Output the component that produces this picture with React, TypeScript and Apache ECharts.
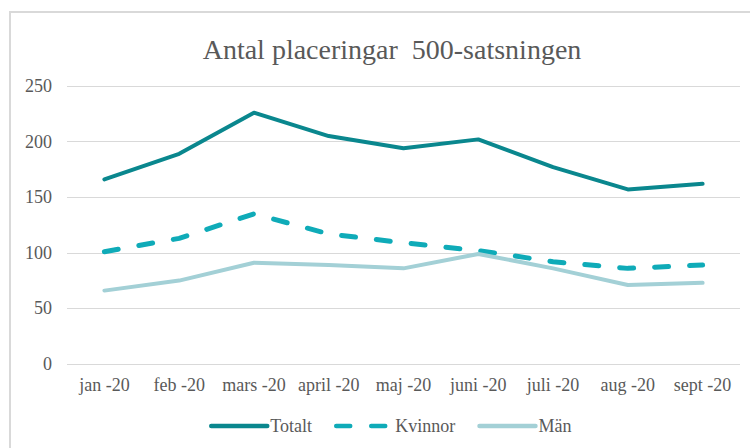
import React, { useEffect, useRef } from "react";
import * as echarts from "echarts";

const categories = ["jan -20", "feb -20", "mars -20", "april -20", "maj -20", "juni -20", "juli -20", "aug -20", "sept -20"];
const totalt = [166, 189, 226, 205, 194, 202, 177, 157, 162];
const kvinnor = [101, 113, 135, 117, 109, 102, 92, 86, 89];
const man = [66, 75, 91, 89, 86, 99, 86, 71, 73];
const yTicks = { min: 0, max: 250, interval: 50 };

export default function App() {
  const ref = useRef<HTMLDivElement>(null);
  useEffect(() => {
    if (!ref.current) return;
    const chart = echarts.init(ref.current, undefined, { renderer: "svg" });
    const serif = "Liberation Serif";
    chart.setOption({
      animation: false,
      backgroundColor: "#ffffff",
      textStyle: { fontFamily: serif, color: "#595959" },
      title: {
        text: "Antal placeringar  500-satsningen",
        left: 387,
        top: 30,
        textAlign: "center",
        textStyle: { fontFamily: serif, fontSize: 28, fontWeight: "normal", color: "#595959" },
      },
      graphic: [
        {
          type: "rect",
          shape: { x: 10, y: 12, width: 780, height: 480 },
          style: { fill: "none", stroke: "#d9d9d9", lineWidth: 2 },
          silent: true,
        },
      ],
      grid: { left: 67, right: 10, top: 86, bottom: 84, containLabel: false },
      legend: {
        bottom: 8,
        left: 204,
        itemWidth: 56,
        itemHeight: 10,
        itemGap: 22,
        itemStyle: { opacity: 0 },
        lineStyle: { width: 4.5 },
        formatter: "{t|{name}}",
        textStyle: {
          fontFamily: serif,
          fontSize: 18,
          color: "#595959",
          rich: { t: { fontFamily: serif, fontSize: 18, color: "#595959", padding: [0, 0, 0, -2] } },
        },
        data: ["Totalt", "Kvinnor", "Män"],
      },
      xAxis: {
        type: "category",
        data: categories,
        boundaryGap: true,
        axisLine: { show: false },
        axisTick: { show: false },
        axisLabel: { fontFamily: serif, fontSize: 18, color: "#595959", margin: 12, interval: 0 },
      },
      yAxis: {
        type: "value",
        min: yTicks.min,
        max: yTicks.max,
        interval: yTicks.interval,
        axisLine: { show: false },
        axisTick: { show: false },
        splitLine: { lineStyle: { color: "#d9d9d9", width: 1 } },
        axisLabel: { fontFamily: serif, fontSize: 18, color: "#595959", margin: 15 },
      },
      series: [
        {
          name: "Totalt",
          type: "line",
          data: totalt,
          symbol: "none",
          color: "#0a878e",
          lineStyle: { width: 4, color: "#0a878e", cap: "round", join: "round" },
        },
        {
          name: "Kvinnor",
          type: "line",
          data: kvinnor,
          symbol: "none",
          color: "#0fabb8",
          lineStyle: { width: 5, color: "#0fabb8", type: [14, 21], cap: "round", join: "round" },
        },
        {
          name: "Män",
          type: "line",
          data: man,
          symbol: "none",
          color: "#a3d0d6",
          lineStyle: { width: 4, color: "#a3d0d6", cap: "round", join: "round" },
        },
      ],
    });
    return () => chart.dispose();
  }, []);
  return (
    <div
      ref={ref}
      style={{ position: "fixed", left: 0, top: 0, width: 750, height: 448 }}
    />
  );
}
